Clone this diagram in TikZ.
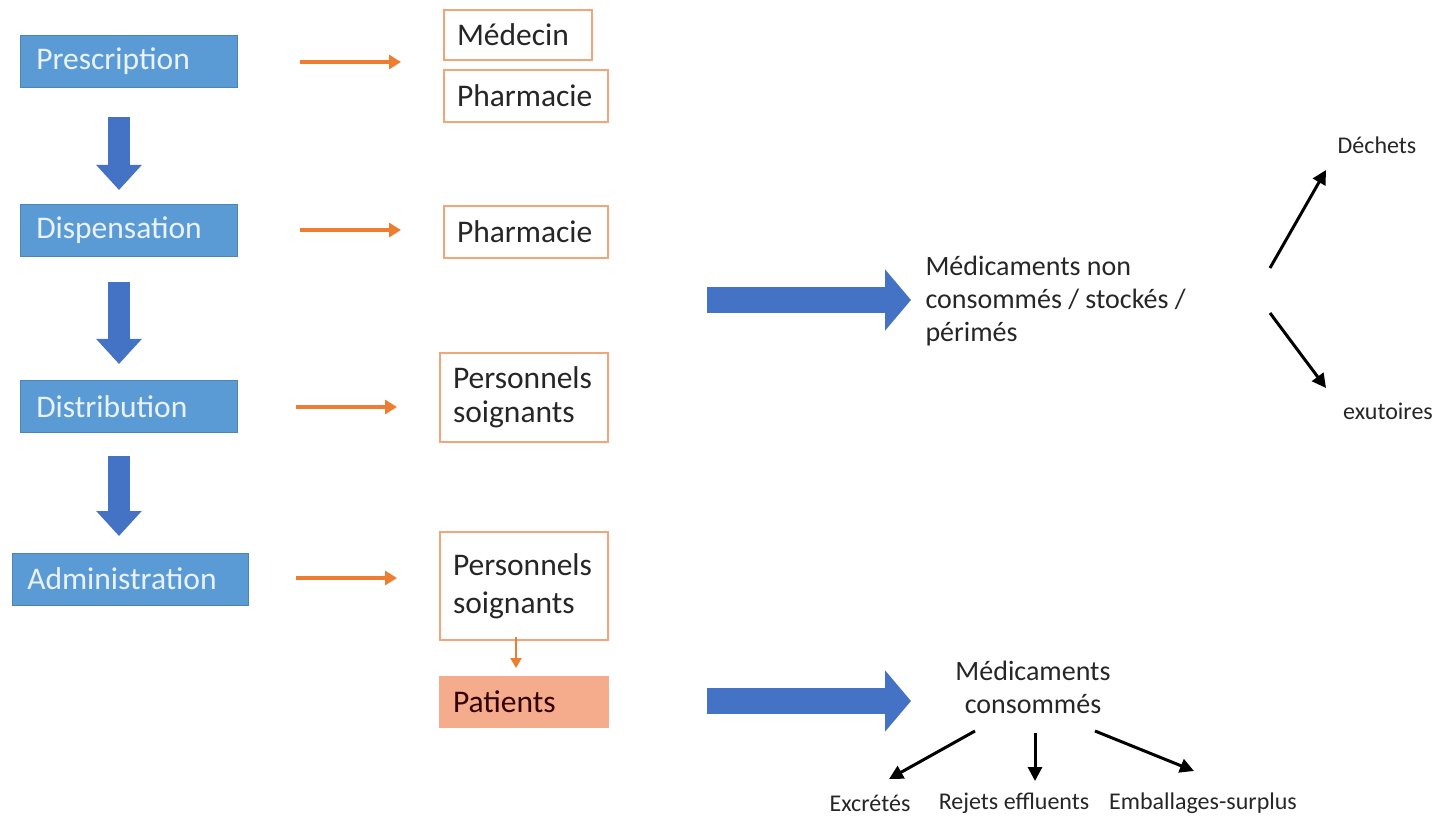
\documentclass[tikz,border=0pt]{standalone}
\usepackage{fontspec}
\setmainfont{Carlito}
\usetikzlibrary{arrows.meta,calc}
\definecolor{boxblue}{HTML}{5B9BD5}
\definecolor{arrblue}{HTML}{4472C4}
\definecolor{orng}{HTML}{ED7D31}
\definecolor{oborder}{HTML}{F0A678}
\definecolor{salmon}{HTML}{F4AC8C}
\definecolor{lighttext}{HTML}{EAF2FB}
\tikzset{
  stage/.style={fill=boxblue, draw=boxblue!85!black, line width=0.6pt, minimum height=52pt, text=lighttext, font=\fontsize{31.5}{36}\selectfont, inner xsep=16pt, anchor=west, align=left},
  actor/.style={draw=oborder, line width=1.6pt, fill=white, font=\fontsize{31.5}{38}\selectfont, text=black!85, align=left, inner xsep=13pt},
  patbox/.style={actor, fill=salmon, draw=salmon, text=black!80!red},
  orarrow/.style={draw=orng, line width=3.5pt, -{Triangle[width=14pt,length=12pt]}},
  bigdown/.style={draw=arrblue, line width=22pt, -{Triangle[width=44pt,length=25pt]}},
  bigright/.style={draw=arrblue, line width=26pt, -{Triangle[width=60pt,length=26pt]}},
  blk/.style={draw=black, line width=3pt, -{Triangle[width=14pt,length=14pt]}},
  lbl/.style={font=\fontsize{28}{33}\selectfont, text=black!85, align=left},
  small/.style={font=\fontsize{24}{27}\selectfont, text=black!85}
}
\begin{document}
\begin{tikzpicture}[x=1pt,y=-1pt]
\useasboundingbox (0,0) rectangle (1438,818);
% stages
\node[stage, minimum width=217pt, text width=185pt] (presc) at (20,61) {Prescription};
\node[stage, minimum width=217pt, text width=185pt] (disp) at (20,230.5) {Dispensation};
\node[stage, minimum width=217pt, text width=185pt] (distr) at (20,406.5) {Distribution};
\node[stage, minimum width=236pt, text width=206pt, inner xsep=15pt] (admin) at (12,579) {Administration};
% blue down arrows
\coordinate (a1s) at (119,117); \coordinate (a1e) at (119,190);
\coordinate (a2s) at (119,282); \coordinate (a2e) at (119,364);
\coordinate (a3s) at (119,456); \coordinate (a3e) at (119,536);
\draw[bigdown] (a1s) -- (a1e);
\draw[bigdown] (a2s) -- (a2e);
\draw[bigdown] (a3s) -- (a3e);
% actors
\node[actor, minimum width=148pt, minimum height=50pt, text width=122pt] (med) at (518,35) {Médecin};
\node[actor, minimum width=164pt, minimum height=52pt, text width=138pt] (ph1) at (526,96) {Pharmacie};
\node[actor, minimum width=164pt, minimum height=52pt, text width=138pt] (ph2) at (526,232) {Pharmacie};
\node[actor, minimum width=168pt, minimum height=89pt, text width=142pt, font=\fontsize{31.5}{34}\selectfont] (pers1) at (524,397.5) {Personnels\\soignants};
\node[actor, minimum width=168pt, minimum height=108pt, text width=142pt] (pers2) at (524,586) {Personnels\\soignants};
\node[patbox, minimum width=168pt, minimum height=50pt, text width=142pt] (pat) at (524,702) {Patients};
% orange arrows
\coordinate (o1s) at (300,62); \coordinate (o1e) at (401,62);
\coordinate (o2s) at (300,230); \coordinate (o2e) at (401,230);
\coordinate (o3s) at (296,407); \coordinate (o3e) at (397,407);
\coordinate (o4s) at (296,578); \coordinate (o4e) at (397,578);
\draw[orarrow] (o1s) -- (o1e);
\draw[orarrow] (o2s) -- (o2e);
\draw[orarrow] (o3s) -- (o3e);
\draw[orarrow] (o4s) -- (o4e);
\coordinate (o5s) at (516,637); \coordinate (o5e) at (516,668);
\draw[orarrow, line width=2.5pt, -{Triangle[width=11pt,length=10pt]}] (o5s) -- (o5e);
% right side
\node[lbl, anchor=west] (nonc) at (922,301) {Médicaments non\\consommés / stockés /\\périmés};
\node[lbl, align=center] (cons) at (1033,687) {Médicaments\\consommés};
\coordinate (b1s) at (707,300); \coordinate (b1e) at (911,300);
\coordinate (b2s) at (707,701); \coordinate (b2e) at (911,701);
\draw[bigright] (b1s) -- (b1e);
\draw[bigright] (b2s) -- (b2e);
\node[small] (dech) at (1377,145) {Déchets};
\node[small] (exut) at (1388,411) {exutoires};
\coordinate (k1s) at (1270,268); \coordinate (k1e) at (1326,170);
\coordinate (k2s) at (1270,313); \coordinate (k2e) at (1326,388);
\draw[blk] (k1s) -- (k1e);
\draw[blk] (k2s) -- (k2e);
\node[small] (excr) at (870,803) {Excrétés};
\node[small] (rej) at (1014,803) {Rejets effluents};
\node[small] (emb) at (1203,803) {Emballages-surplus};
\coordinate (c1s) at (975,731); \coordinate (c1e) at (889,779);
\coordinate (c2s) at (1035,733); \coordinate (c2e) at (1035,781);
\coordinate (c3s) at (1095,731); \coordinate (c3e) at (1194,771);
\draw[blk] (c1s) -- (c1e);
\draw[blk] (c2s) -- (c2e);
\draw[blk] (c3s) -- (c3e);
\end{tikzpicture}
\end{document}
